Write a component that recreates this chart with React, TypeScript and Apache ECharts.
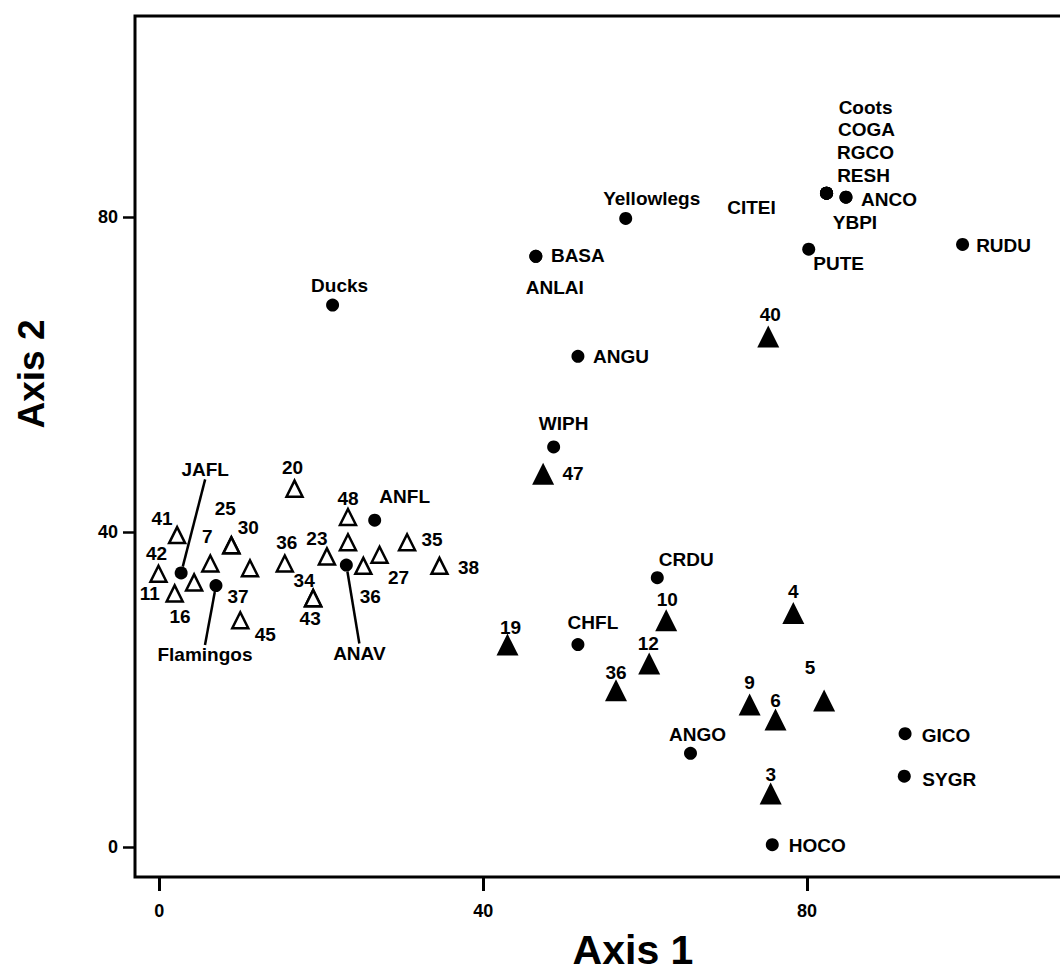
import React, { useEffect, useRef } from "react";
import * as echarts from "echarts";

// ---- Data ----
const speciesNames = [
  "Ducks", "Yellowlegs", "BASA", "ANLAI", "ANGU", "WIPH", "Coots", "COGA", "RGCO", "RESH",
  "CITEI", "ANCO", "YBPI", "PUTE", "RUDU", "ANFL", "JAFL", "Flamingos", "ANAV", "CRDU",
  "CHFL", "ANGO", "GICO", "SYGR", "HOCO",
];
const speciesAxis1 = [
  21.4, 57.6, 46.5, 46.5, 51.7, 48.7, 82.4, 82.4, 82.4, 82.4,
  82.4, 84.8, 84.8, 80.2, 99.2, 26.6, 2.7, 7.0, 23.1, 61.5,
  51.7, 65.6, 92.1, 92.0, 75.7,
];
const speciesAxis2 = [
  68.8, 79.8, 75.0, 75.0, 62.3, 50.8, 83.0, 83.0, 83.0, 83.0,
  83.0, 82.5, 82.5, 75.9, 76.5, 41.5, 34.8, 33.2, 35.8, 34.2,
  25.7, 11.9, 14.4, 9.0, 0.3,
];

const openSiteLabels = [
  "41", "42", "11", "16", "7", "30", "25", "37", "45", "36",
  "34", "43", "20", "23", "48", "", "36", "27", "35", "38",
];
const openSiteAxis1 = [
  2.2, -0.1, 1.9, 4.3, 6.3, 8.9, 8.9, 11.2, 10.0, 15.5,
  19.0, 19.0, 16.7, 20.7, 23.3, 23.3, 25.2, 27.2, 30.6, 34.6,
];
const openSiteAxis2 = [
  39.6, 34.7, 32.2, 33.6, 36.0, 38.3, 38.3, 35.4, 28.8, 36.0,
  31.6, 31.6, 45.5, 36.9, 41.9, 38.7, 35.7, 37.1, 38.7, 35.7,
];

const filledSiteLabels = ["40", "47", "19", "10", "12", "36", "4", "9", "6", "5", "3"];
const filledSiteAxis1 = [75.2, 47.4, 43.0, 62.6, 60.5, 56.4, 78.3, 72.9, 76.1, 82.1, 75.5];
const filledSiteAxis2 = [64.8, 47.4, 25.7, 28.8, 23.3, 19.9, 29.7, 18.1, 16.2, 18.6, 6.8];

const tickValues = [0, 40, 80];

// ---- Label placement (styling, px offsets of label centre from mark) ----
const speciesLabelOffset: number[][] = [
  [7, -20], [26, -20], [42, -1], [19, 31], [43, 0], [10, -23], [39, -86], [40, -64], [39, -41], [37, -18],
  [-75, 14], [43, 2], [9, 25], [30, 14], [41, 1], [30, -24], [24, -103], [-11, 69], [13, 88], [29, -18],
  [15, -22], [7, -19], [41, 2], [45, 3], [45, 1],
];
const leaderSpecies = ["JAFL", "Flamingos", "ANAV"];
const openLabelOffset: number[][] = [
  [-15, -17], [-2, -20], [-25, 0], [-14, 34], [-3, -27], [17, -18], [-6, -37], [-12, 28], [25, 14], [2, -21],
  [-9, -18], [-3, 20], [-2, -21], [-10, -18], [0, -19], [0, 0], [7, 31], [19, 23], [25, -3], [29, 2],
];
const filledLabelOffset: number[][] = [
  [2, -22], [30, 0], [3, -17], [1, -21], [-1, -20], [0, -18], [0, -22], [0, -22], [0, -19], [-14, -33], [0, -19],
];

const FONT = "'Liberation Sans', Arial, Helvetica, sans-serif";
const labelBase = {
  show: true,
  position: "inside" as const,
  color: "#000",
  opacity: 1,
  fontFamily: FONT,
  fontWeight: "bold" as const,
  fontSize: 19,
};

export default function App() {
  const ref = useRef<HTMLDivElement>(null);

  useEffect(() => {
    if (!ref.current) return;
    const chart = echarts.init(ref.current, null, { renderer: "svg" });

    const plainIdx = speciesNames.map((_, i) => i).filter((i) => !leaderSpecies.includes(speciesNames[i]));
    const leaderIdx = speciesNames.map((_, i) => i).filter((i) => leaderSpecies.includes(speciesNames[i]));

    const speciesData = plainIdx.map((i) => ({
      name: speciesNames[i],
      value: [speciesAxis1[i], speciesAxis2[i]],
      label: { ...labelBase, formatter: speciesNames[i], offset: speciesLabelOffset[i] },
    }));
    const leaderData = leaderIdx.map((i) => ({
      name: speciesNames[i],
      value: [speciesAxis1[i], speciesAxis2[i]],
      label: { ...labelBase, formatter: speciesNames[i] },
    }));
    const openData = openSiteLabels.map((n, i) => ({
      name: n,
      value: [openSiteAxis1[i], openSiteAxis2[i]],
      label: { ...labelBase, show: n !== "", formatter: n, offset: openLabelOffset[i] },
    }));
    const filledData = filledSiteLabels.map((n, i) => ({
      name: n,
      value: [filledSiteAxis1[i], filledSiteAxis2[i]],
      label: { ...labelBase, formatter: n, offset: filledLabelOffset[i] },
    }));

    const option: any = {
      animation: false,
      grid: {
        show: true,
        left: 135,
        top: 16,
        right: 69,
        bottom: 93,
        borderColor: "#000",
        borderWidth: 3,
        backgroundColor: "transparent",
      },
      xAxis: {
        type: "value",
        min: -3,
        max: 120,
        name: "Axis 1",
        nameLocation: "middle",
        nameGap: 52,
        nameTextStyle: { fontFamily: FONT, fontWeight: "bold", fontSize: 41, color: "#000" },
        axisLine: { show: false, onZero: false },
        axisTick: { show: true, customValues: tickValues, length: 14, lineStyle: { color: "#000", width: 3 } },
        axisLabel: {
          customValues: tickValues,
          margin: 25,
          color: "#000",
          fontFamily: FONT,
          fontWeight: "bold",
          fontSize: 18,
        },
        splitLine: { show: false },
      },
      yAxis: {
        type: "value",
        min: -3.8,
        max: 105.5,
        axisLine: { show: false, onZero: false },
        axisTick: { show: true, customValues: tickValues, length: 12, lineStyle: { color: "#000", width: 2.5 } },
        axisLabel: {
          customValues: tickValues,
          margin: 17,
          color: "#000",
          fontFamily: FONT,
          fontWeight: "bold",
          fontSize: 18,
        },
        splitLine: { show: false },
      },
      graphic: [
        {
          type: "text",
          x: 31,
          y: 374,
          rotation: Math.PI / 2,
          style: {
            text: "Axis 2",
            fontFamily: FONT,
            fontWeight: "bold",
            fontSize: 37,
            fill: "#000",
            align: "center",
            verticalAlign: "middle",
          },
        },
      ],
      series: [
        {
          name: "Sites (open)",
          type: "scatter",
          symbol: "triangle",
          symbolSize: 16,
          silent: true,
          itemStyle: { color: "#fff", borderColor: "#000", borderWidth: 2.5, opacity: 1 },
          data: openData,
          z: 3,
        },
        {
          name: "Sites (filled)",
          type: "scatter",
          symbol: "triangle",
          symbolSize: 22,
          silent: true,
          itemStyle: { color: "#000", opacity: 1 },
          data: filledData,
          z: 3,
        },
        {
          name: "Species",
          type: "scatter",
          symbol: "circle",
          symbolSize: 13,
          silent: true,
          itemStyle: { color: "#000", opacity: 1 },
          data: speciesData,
          z: 4,
        },
        {
          name: "Species (leader)",
          type: "scatter",
          symbol: "circle",
          symbolSize: 13,
          silent: true,
          itemStyle: { color: "#000", opacity: 1 },
          data: leaderData,
          z: 4,
          labelLine: { show: true, lineStyle: { color: "#000", width: 2.5, opacity: 1 } },
          labelLayout: (params: any) => {
            const i = leaderIdx[params.dataIndex];
            const o = speciesLabelOffset[i];
            return { dx: o[0], dy: o[1] };
          },
        },
      ],
    };

    chart.setOption(option);
    return () => chart.dispose();
  }, []);

  return (
    <div
      style={{
        position: "absolute",
        left: 0,
        top: 0,
        width: 1060,
        height: 975,
        overflow: "hidden",
        background: "#fff",
      }}
    >
      <div ref={ref} style={{ width: 1200, height: 975 }} />
    </div>
  );
}
